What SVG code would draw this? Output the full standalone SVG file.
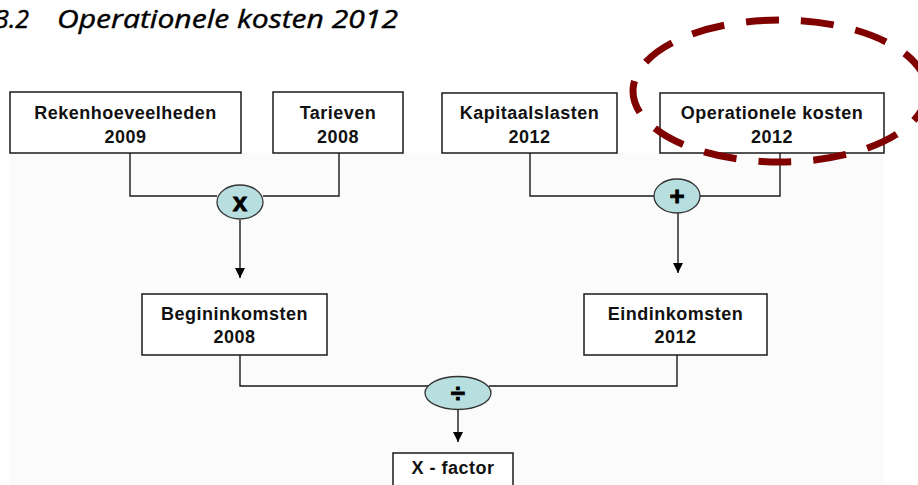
<svg xmlns="http://www.w3.org/2000/svg" width="918" height="485" viewBox="0 0 918 485">
<style>
.box{fill:#fff;stroke:#1a1a1a;stroke-width:1.5}
.lbl{font-family:"Liberation Sans",Arial,sans-serif;font-weight:bold;font-size:18px;letter-spacing:0.5px;fill:#111;text-anchor:middle}
.op{fill:#b8dfe0;stroke:#333;stroke-width:1.3}
.sym{font-family:"Liberation Sans",Arial,sans-serif;font-weight:bold;font-size:26px;fill:#000;stroke:#000;stroke-width:0.8;text-anchor:middle}
.wire{fill:none;stroke:#1a1a1a;stroke-width:1.4}
.title{font-family:"Open Sans","DejaVu Sans",sans-serif;font-style:italic;font-size:25px;fill:#000;stroke:#000;stroke-width:0.4}
</style>
<defs>
<marker id="ah" viewBox="0 0 10 10" refX="10" refY="5" markerWidth="10" markerHeight="10" markerUnits="userSpaceOnUse" orient="auto">
<path d="M0,0 L10,5 L0,10 Z" fill="#000"/>
</marker>
</defs>
<rect x="0" y="0" width="918" height="485" fill="#fff"/>
<rect x="10" y="153" width="874" height="332" fill="#fbfbfb"/>
<g id="title">
<text class="title" x="29" y="28" text-anchor="end">3.2</text>
<text class="title" x="57" y="28" textLength="341" lengthAdjust="spacingAndGlyphs">Operationele kosten 2012</text>
</g>
<g id="connectors">
<path class="wire" d="M130,153 V196 H217 M263,196 H339 V153"/>
<path class="wire" d="M240,220 V278" marker-end="url(#ah)"/>
<path class="wire" d="M530,153 V196 H654 M700,196 H780 V153"/>
<path class="wire" d="M678,213 V273" marker-end="url(#ah)"/>
<path class="wire" d="M240,355 V386 H428 M489,386 H677 V355"/>
<path class="wire" d="M458,410 V442" marker-end="url(#ah)"/>
</g>
<g id="n-rekenhoeveelheden">
<rect class="box" x="10" y="92" width="231" height="61"/>
<text class="lbl" x="125.5" y="119">Rekenhoeveelheden</text>
<text class="lbl" x="125.5" y="143">2009</text>
</g>
<g id="n-tarieven">
<rect class="box" x="273" y="92" width="130" height="61"/>
<text class="lbl" x="338" y="119">Tarieven</text>
<text class="lbl" x="338" y="143">2008</text>
</g>
<g id="n-kapitaalslasten">
<rect class="box" x="442" y="93" width="175" height="60"/>
<text class="lbl" x="529.5" y="119">Kapitaalslasten</text>
<text class="lbl" x="529.5" y="143">2012</text>
</g>
<g id="n-operationele">
<rect class="box" x="660" y="93" width="224" height="60"/>
<text class="lbl" x="772" y="119">Operationele kosten</text>
<text class="lbl" x="772" y="143">2012</text>
</g>
<g id="op-multiply">
<ellipse class="op" cx="240" cy="202" rx="23" ry="17"/>
<text class="sym" x="240" y="211">x</text>
</g>
<g id="op-plus">
<ellipse class="op" cx="677" cy="196" rx="23" ry="17"/>
<text class="sym" x="677" y="205">+</text>
</g>
<g id="n-begininkomsten">
<rect class="box" x="142" y="294" width="185" height="61"/>
<text class="lbl" x="234.5" y="320">Begininkomsten</text>
<text class="lbl" x="234.5" y="343">2008</text>
</g>
<g id="n-eindinkomsten">
<rect class="box" x="584" y="294" width="183" height="61"/>
<text class="lbl" x="675.5" y="320">Eindinkomsten</text>
<text class="lbl" x="675.5" y="343">2012</text>
</g>
<g id="op-divide">
<ellipse class="op" cx="458" cy="393" rx="33" ry="16.5"/>
<text class="sym" x="458" y="402">÷</text>
</g>
<g id="n-xfactor">
<rect class="box" x="393" y="453" width="120" height="40"/>
<text class="lbl" x="453" y="474">X - factor</text>
</g>
<g id="highlight">
<ellipse cx="780" cy="91" rx="147" ry="71" fill="none" stroke="#800000" stroke-width="7" stroke-dasharray="33 22"/>
</g>
</svg>
